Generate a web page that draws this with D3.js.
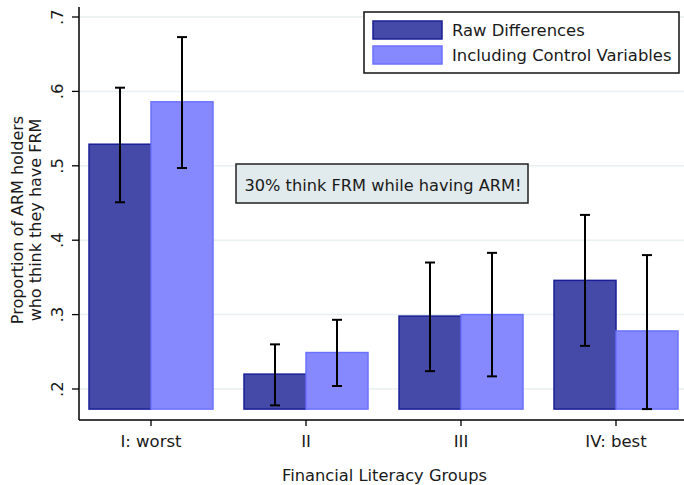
<!DOCTYPE html>
<html>
<head>
<meta charset="utf-8">
<script src="https://cdn.jsdelivr.net/npm/d3@7"></script>
<style>
  body { margin: 0; background: #fff; }
  svg { display: block; font-family: "DejaVu Sans", sans-serif; }
</style>
</head>
<body>
<svg id="chart" width="684" height="485"></svg>
<script>
const groups = ["I: worst", "II", "III", "IV: best"];
const seriesNames = ["Raw Differences", "Including Control Variables"];

const rawMean = [0.529, 0.220, 0.298, 0.346];
const rawLow = [0.451, 0.178, 0.224, 0.258];
const rawHigh = [0.605, 0.260, 0.370, 0.434];

const ctrlMean = [0.586, 0.249, 0.300, 0.278];
const ctrlLow = [0.497, 0.204, 0.217, 0.173];
const ctrlHigh = [0.673, 0.293, 0.383, 0.380];

const yTicks = [0.2, 0.3, 0.4, 0.5, 0.6, 0.7];
const barBase = 0.173;

const COLORS = {
    rawFill: "#454aa8", rawStroke: "#1a1f96",
    ctrlFill: "#8589fd", ctrlStroke: "#6c72fb",
    grid: "#e8f0f1", text: "#1a1a1a"
};

const svg = d3.select("#chart");

const plotLeft = 79, plotRight = 684, plotTop = 7, plotBottom = 420;

const x = d3.scalePoint().domain(groups).range([151, 616]);
const y = d3.scaleLinear().domain([0.2, 0.7]).range([389, 17]);
const barW = 62;

// grid
svg.append("g")
    .selectAll("line")
    .data(yTicks)
    .enter()
    .append("line")
    .attr("x1", plotLeft + 1)
    .attr("x2", plotRight)
    .attr("y1", d => y(d))
    .attr("y2", d => y(d))
    .attr("stroke", COLORS.grid)
    .attr("stroke-width", 1.5);

function makeSeries(means, lows, highs, offset, fill, stroke) {
    const rows = groups.map((g, i) => ({ g: g, m: means[i], lo: lows[i], hi: highs[i] }));
    const g = svg.append("g");

    g.selectAll("rect")
        .data(rows)
        .enter()
        .append("rect")
        .attr("x", d => x(d.g) + offset)
        .attr("y", d => y(d.m))
        .attr("width", barW)
        .attr("height", d => y(barBase) - y(d.m))
        .attr("fill", fill)
        .attr("stroke", stroke)
        .attr("stroke-width", 1.5);

    return rows;
}

function drawErrors(rows, offset) {
    const g = svg.append("g").attr("stroke", "#000").attr("stroke-width", 2);
    const cx = d => x(d.g) + offset + barW / 2;
    g.selectAll(".stem").data(rows).enter().append("line")
        .attr("x1", cx).attr("x2", cx)
        .attr("y1", d => y(d.lo)).attr("y2", d => y(d.hi));
    g.selectAll(".capTop").data(rows).enter().append("line")
        .attr("x1", d => cx(d) - 5).attr("x2", d => cx(d) + 5)
        .attr("y1", d => y(d.hi)).attr("y2", d => y(d.hi));
    g.selectAll(".capBot").data(rows).enter().append("line")
        .attr("x1", d => cx(d) - 5).attr("x2", d => cx(d) + 5)
        .attr("y1", d => y(d.lo)).attr("y2", d => y(d.lo));
}

const rawRows = makeSeries(rawMean, rawLow, rawHigh, -barW, COLORS.rawFill, COLORS.rawStroke);
const ctrlRows = makeSeries(ctrlMean, ctrlLow, ctrlHigh, 0, COLORS.ctrlFill, COLORS.ctrlStroke);
drawErrors(rawRows, -barW);
drawErrors(ctrlRows, 0);

// axes
svg.append("line")
    .attr("x1", plotLeft).attr("x2", plotLeft)
    .attr("y1", plotTop).attr("y2", plotBottom)
    .attr("stroke", "#000").attr("stroke-width", 1.5);
svg.append("line")
    .attr("x1", plotLeft).attr("x2", plotRight)
    .attr("y1", plotBottom).attr("y2", plotBottom)
    .attr("stroke", "#000").attr("stroke-width", 1.5);

const yAxis = svg.append("g");
yAxis.selectAll("line").data(yTicks).enter().append("line")
    .attr("x1", plotLeft - 7).attr("x2", plotLeft)
    .attr("y1", d => y(d)).attr("y2", d => y(d))
    .attr("stroke", "#000").attr("stroke-width", 1.3);
yAxis.selectAll("text").data(yTicks).enter().append("text")
    .attr("transform", d => `translate(63, ${y(d)}) rotate(-90)`)
    .attr("text-anchor", "middle")
    .attr("fill", COLORS.text)
    .style("font-size", "16.5px")
    .text(d => d3.format(".1f")(d).replace(/^0/, ""));

const xAxis = svg.append("g");
xAxis.selectAll("line").data(groups).enter().append("line")
    .attr("x1", d => x(d)).attr("x2", d => x(d))
    .attr("y1", plotBottom).attr("y2", plotBottom + 6)
    .attr("stroke", "#000").attr("stroke-width", 1.3);
xAxis.selectAll("text").data(groups).enter().append("text")
    .attr("x", d => x(d))
    .attr("y", 447)
    .attr("text-anchor", "middle")
    .attr("fill", COLORS.text)
    .style("font-size", "16.5px")
    .text(d => d);

// axis titles
svg.append("text")
    .attr("x", (plotLeft + plotRight) / 2 + 3)
    .attr("y", 481)
    .attr("text-anchor", "middle")
    .attr("fill", COLORS.text)
    .style("font-size", "16.3px")
    .text("Financial Literacy Groups");

const yTitle = svg.append("text")
    .attr("transform", "translate(0, 220) rotate(-90)")
    .attr("text-anchor", "middle")
    .attr("fill", COLORS.text)
    .style("font-size", "16px");
yTitle.append("tspan").attr("x", 0).attr("y", 23).text("Proportion of ARM holders");
yTitle.append("tspan").attr("x", 0).attr("y", 41).text("who think they have FRM");

// annotation
const note = svg.append("g");
note.append("rect")
    .attr("x", 236).attr("y", 164)
    .attr("width", 292).attr("height", 39)
    .attr("fill", "#e1eaec")
    .attr("stroke", "#222")
    .attr("stroke-width", 1.5);
note.append("text")
    .attr("x", 383).attr("y", 191)
    .attr("text-anchor", "middle")
    .attr("fill", COLORS.text)
    .style("font-size", "16.2px")
    .text("30% think FRM while having ARM!");

// legend
const legend = svg.append("g");
legend.append("rect")
    .attr("x", 364).attr("y", 12)
    .attr("width", 315).attr("height", 61)
    .attr("fill", "#fff")
    .attr("stroke", "#111")
    .attr("stroke-width", 1.5);
const legendFill = [COLORS.rawFill, COLORS.ctrlFill];
const legendStroke = [COLORS.rawStroke, COLORS.ctrlStroke];
legend.selectAll(".sw").data(seriesNames).enter().append("rect")
    .attr("x", 373)
    .attr("y", (d, i) => 21 + i * 25)
    .attr("width", 69)
    .attr("height", 18)
    .attr("fill", (d, i) => legendFill[i])
    .attr("stroke", (d, i) => legendStroke[i])
    .attr("stroke-width", 1.5);
legend.selectAll(".lt").data(seriesNames).enter().append("text")
    .attr("x", 452)
    .attr("y", (d, i) => 36 + i * 25)
    .attr("fill", COLORS.text)
    .style("font-size", "16.4px")
    .text(d => d);
</script>
</body>
</html>
